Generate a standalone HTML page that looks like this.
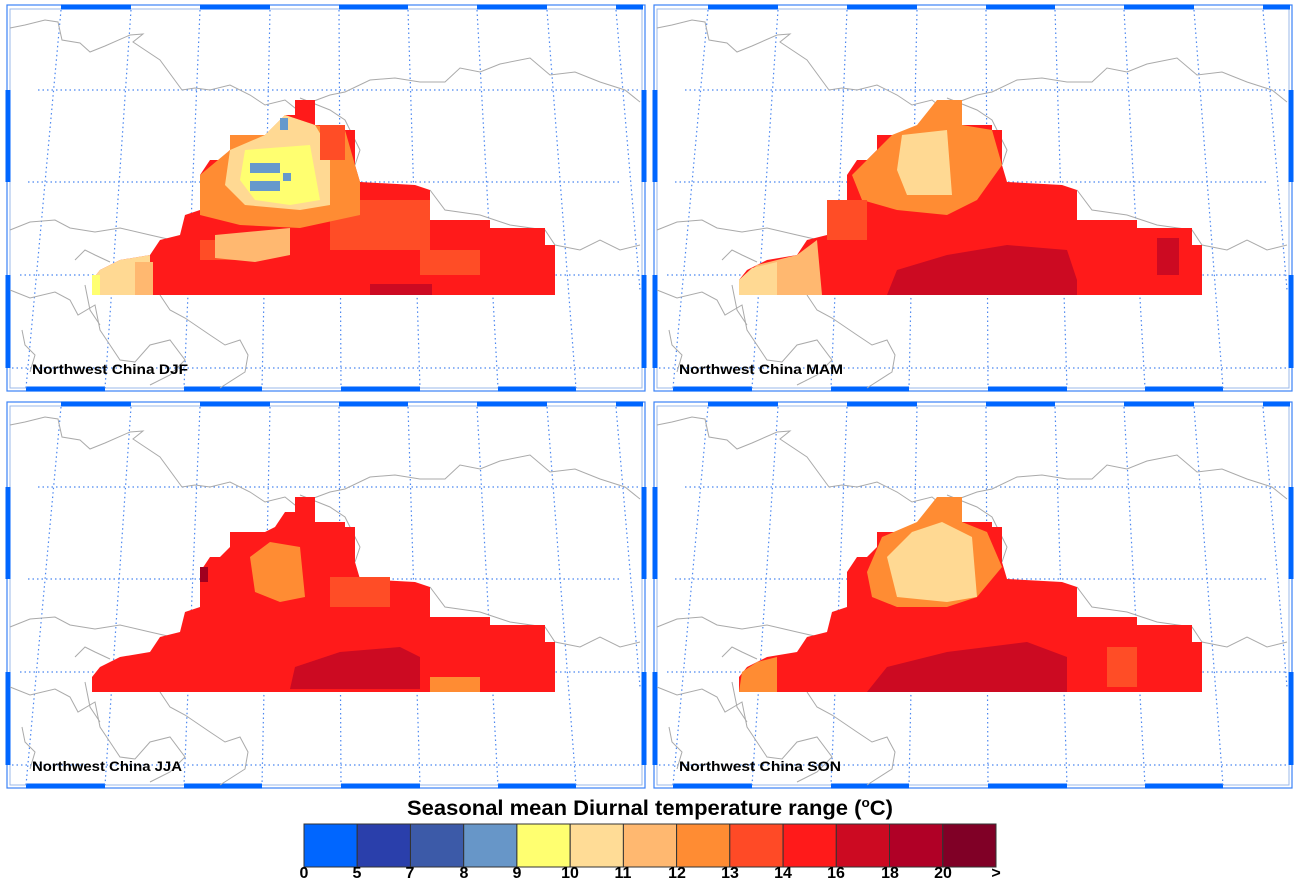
<!DOCTYPE html>
<html><head><meta charset="utf-8"><style>
html,body{margin:0;padding:0;background:#fff;}
svg{display:block;font-family:"Liberation Sans",Arial,sans-serif;}
</style></head><body>
<svg width="1300" height="882" viewBox="0 0 1300 882" xmlns="http://www.w3.org/2000/svg">
<defs>
<g id="frame">
  <rect x="7" y="5" width="638" height="386" fill="#fff" stroke="#3b82f6" stroke-width="1.2"/>
  <rect x="10" y="9" width="632" height="379" fill="none" stroke="#9bb8e8" stroke-width="1"/>
  <g stroke="#0066ff" stroke-width="5">
    <line x1="61" y1="7" x2="131" y2="7"/><line x1="200" y1="7" x2="270" y2="7"/><line x1="339" y1="7" x2="408" y2="7"/><line x1="477" y1="7" x2="547" y2="7"/><line x1="616" y1="7" x2="643" y2="7"/>
    <line x1="26" y1="389" x2="105" y2="389"/><line x1="184" y1="389" x2="262" y2="389"/><line x1="341" y1="389" x2="420" y2="389"/><line x1="498" y1="389" x2="576" y2="389"/>
    <line x1="8" y1="90" x2="8" y2="182"/><line x1="8" y1="275" x2="8" y2="368"/>
    <line x1="644" y1="90" x2="644" y2="182"/><line x1="644" y1="275" x2="644" y2="368"/>
  </g>
  <g stroke="#4a86f0" stroke-width="1.2" stroke-dasharray="1.5,3" fill="none">
    <line x1="38" y1="90" x2="640" y2="90"/><line x1="28" y1="182" x2="620" y2="182"/><line x1="20" y1="275" x2="640" y2="275"/><line x1="12" y1="368" x2="640" y2="368"/>
    <line x1="61" y1="10" x2="26" y2="388"/><line x1="131" y1="10" x2="105" y2="388"/><line x1="200" y1="10" x2="184" y2="388"/><line x1="270" y1="10" x2="262" y2="388"/><line x1="339" y1="10" x2="341" y2="388"/><line x1="408" y1="10" x2="420" y2="388"/><line x1="477" y1="10" x2="498" y2="388"/><line x1="547" y1="10" x2="576" y2="388"/><line x1="616" y1="10" x2="640" y2="290"/>
  </g>
  <g stroke="#aaa" stroke-width="1" fill="none">
    <polyline points="10,28 25,25 45,20 58,22 62,40 80,43 90,52 105,46 130,35 143,34 133,42 160,60 182,90 195,88 210,90 230,85 250,95 265,105 285,100 295,108 330,95 345,92 370,80 395,78 420,82 445,82 460,68 480,72 500,64 530,58 550,75 575,72 600,82 625,90 640,102"/>
    <polyline points="10,230 30,222 55,220 70,228 95,232 120,228 150,235 172,240 195,245"/>
    <polyline points="10,290 30,298 55,292 70,300 78,315 95,305 100,330 110,345 120,360 135,362 150,345 170,340 185,360 170,375 150,385"/>
    <polyline points="75,260 85,250 95,255 110,262"/>
    <polyline points="85,285 90,310 100,325"/>
    <polyline points="160,295 170,310 185,318 210,335 225,345 240,340 248,355 245,372 220,388"/>
    <polyline points="430,190 445,210 480,215 510,225 545,230 555,245 580,250 600,240 620,250 640,245"/>
    <polyline points="355,165 360,150 345,120 330,110 310,102 300,98"/>
    <polyline points="22,330 25,345 35,355 30,372"/>
  </g>
</g>
<polygon id="base" points="92,295 555,295 555,245 545,245 545,228 490,228 490,220 430,220 430,190 415,185 360,182 355,165 355,130 345,130 345,125 315,125 315,100 295,100 295,115 285,115 275,130 265,135 230,135 230,150 220,160 210,160 200,175 200,210 185,215 180,235 160,240 150,255 120,260 110,265 100,270 92,280" fill="#ff1a1a"/>
</defs>

<g>
  <use href="#frame"/>
  <use href="#base"/>
  <rect x="330" y="200" width="100" height="50" fill="#ff4d26"/>
  <rect x="200" y="240" width="60" height="20" fill="#ff4d26"/>
  <rect x="420" y="250" width="60" height="25" fill="#ff4d26"/>
  <polygon points="200,175 230,150 230,135 265,135 285,115 315,125 345,130 355,165 360,182 360,215 300,228 240,225 200,215" fill="#ff8c33"/>
  <polygon points="230,150 265,135 285,115 315,125 330,150 330,205 300,210 245,205 225,185" fill="#ffd993"/>
  <polygon points="245,150 310,145 320,200 290,205 255,200 240,180" fill="#ffff70"/>
  <rect x="280" y="118" width="8" height="12" fill="#6699cc"/>
  <rect x="250" y="163" width="30" height="10" fill="#6699cc"/>
  <rect x="283" y="173" width="8" height="8" fill="#6699cc"/>
  <rect x="250" y="181" width="30" height="10" fill="#6699cc"/>
  <rect x="320" y="125" width="25" height="35" fill="#ff4d26"/>
  <polygon points="215,235 290,228 290,255 255,262 215,258" fill="#ffb870"/>
  <polygon points="92,295 92,280 100,270 110,265 120,260 150,255 150,295" fill="#ffd993"/>
  <rect x="92" y="275" width="8" height="20" fill="#ffff70"/>
  <rect x="135" y="262" width="18" height="33" fill="#ffb870"/>
  <rect x="370" y="284" width="62" height="11" fill="#cc0a22"/>
  <text x="32" y="374" font-size="14" font-weight="bold" textLength="156" lengthAdjust="spacingAndGlyphs">Northwest China DJF</text>
</g>

<g transform="translate(647,0)">
  <use href="#frame"/>
  <use href="#base"/>
  <polygon points="205,175 230,150 245,135 270,125 290,100 315,100 315,125 345,130 355,165 330,200 300,215 250,210 215,200" fill="#ff8c33"/>
  <polygon points="255,135 300,130 305,195 260,195 250,170" fill="#ffd993"/>
  <polygon points="240,295 250,270 300,255 360,245 420,250 430,280 430,295" fill="#cc0a22"/>
  <rect x="510" y="238" width="22" height="37" fill="#cc0a22"/>
  <polygon points="92,295 92,280 110,265 150,255 170,240 175,295" fill="#ffb870"/>
  <polygon points="92,295 92,280 105,268 130,262 130,295" fill="#ffd993"/>
  <rect x="180" y="200" width="40" height="40" fill="#ff4d26"/>
  <text x="32" y="374" font-size="14" font-weight="bold" textLength="164" lengthAdjust="spacingAndGlyphs">Northwest China MAM</text>
</g>

<g transform="translate(0,397)">
  <use href="#frame"/>
  <use href="#base"/>
  <polygon points="250,160 270,145 300,150 305,200 280,205 255,195" fill="#ff8c33"/>
  <polygon points="290,292 295,270 340,255 400,250 420,260 420,292" fill="#cc0a22"/>
  <rect x="430" y="280" width="50" height="15" fill="#ff8c33"/>
  <rect x="200" y="170" width="8" height="15" fill="#a0001f"/>
  <rect x="330" y="180" width="60" height="30" fill="#ff4d26"/>
  <text x="32" y="374" font-size="14" font-weight="bold" textLength="150" lengthAdjust="spacingAndGlyphs">Northwest China JJA</text>
</g>

<g transform="translate(647,397)">
  <use href="#frame"/>
  <use href="#base"/>
  <polygon points="220,175 235,140 270,125 290,100 315,100 315,125 340,135 355,170 330,200 300,210 250,210 225,200" fill="#ff8c33"/>
  <polygon points="240,160 265,135 295,125 325,140 330,200 300,205 250,200" fill="#ffd993"/>
  <polygon points="220,295 240,270 300,255 380,245 420,260 420,295" fill="#cc0a22"/>
  <polygon points="92,295 95,275 110,265 130,260 130,295" fill="#ff8c33"/>
  <rect x="460" y="250" width="30" height="40" fill="#ff4d26"/>
  <text x="32" y="374" font-size="14" font-weight="bold" textLength="162" lengthAdjust="spacingAndGlyphs">Northwest China SON</text>
</g>

<text x="650" y="815" font-size="21" font-weight="bold" text-anchor="middle" textLength="486" lengthAdjust="spacingAndGlyphs">Seasonal mean Diurnal temperature range (<tspan font-size="13" dy="-8">o</tspan><tspan dy="8">C)</tspan></text>
<g stroke="#333" stroke-width="1">
  <rect x="304" y="824" width="53.2" height="43" fill="#0066ff"/>
  <rect x="357.2" y="824" width="53.2" height="43" fill="#2a3fab"/>
  <rect x="410.5" y="824" width="53.2" height="43" fill="#3c5aa8"/>
  <rect x="463.7" y="824" width="53.2" height="43" fill="#6796c8"/>
  <rect x="516.9" y="824" width="53.2" height="43" fill="#ffff70"/>
  <rect x="570.2" y="824" width="53.2" height="43" fill="#ffdc96"/>
  <rect x="623.4" y="824" width="53.2" height="43" fill="#ffb870"/>
  <rect x="676.6" y="824" width="53.2" height="43" fill="#ff8c33"/>
  <rect x="729.8" y="824" width="53.2" height="43" fill="#ff4a26"/>
  <rect x="783.1" y="824" width="53.2" height="43" fill="#ff1a1a"/>
  <rect x="836.3" y="824" width="53.2" height="43" fill="#cc0a22"/>
  <rect x="889.5" y="824" width="53.2" height="43" fill="#b00026"/>
  <rect x="942.8" y="824" width="53.2" height="43" fill="#800026"/>
</g>
<g font-size="16" font-weight="bold" text-anchor="middle">
  <text x="304" y="878">0</text><text x="357" y="878">5</text><text x="410" y="878">7</text><text x="464" y="878">8</text><text x="517" y="878">9</text><text x="570" y="878">10</text><text x="623" y="878">11</text><text x="677" y="878">12</text><text x="730" y="878">13</text><text x="783" y="878">14</text><text x="836" y="878">16</text><text x="890" y="878">18</text><text x="943" y="878">20</text><text x="996" y="878">&gt;</text>
</g>
</svg>
</body></html>
